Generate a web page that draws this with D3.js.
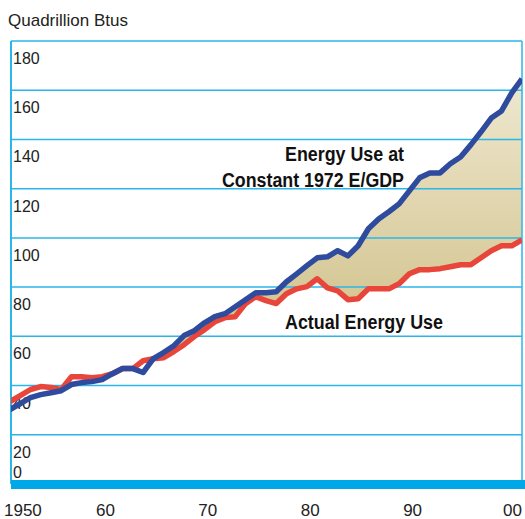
<!DOCTYPE html>
<html>
<head>
<meta charset="utf-8">
<script src="https://cdn.jsdelivr.net/npm/d3@7"></script>
<style>
	body { margin: 0; background: #fff; }
	svg { display: block; }
	.lbl { font-family: "Liberation Sans", Arial, sans-serif; fill: #222; }
	.note { font-family: "Liberation Sans Narrow", "Arial Narrow", "Liberation Sans", sans-serif; font-weight: bold; fill: #111; }
</style>
</head>
<body>
<div id="chart"></div>
<script>
const years = d3.range(1950, 2001);

// actual U.S. energy use, quadrillion Btus
const actual = [
	33.5, 35.9, 38.4, 39.6, 39.2, 38.4, 43.6, 43.6, 43.2, 43.6,
	44.8, 46.9, 46.9, 50.1, 50.9, 51.3, 53.8, 56.6, 59.9, 62.7,
	65.9, 67.6, 68.0, 73.3, 76.1, 74.5, 73.3, 77.3, 79.3, 80.2,
	83.4, 79.7, 78.5, 74.9, 75.3, 79.3, 79.3, 79.3, 81.4, 85.4,
	87.1, 87.1, 87.5, 88.3, 89.1, 89.1, 91.9, 94.8, 96.8, 96.8,
	99.2
];

// energy use at constant 1972 E/GDP
const constant = [
	30.2, 32.7, 35.1, 36.3, 37.1, 37.9, 40.4, 41.2, 41.6, 42.4,
	44.8, 46.9, 46.9, 45.3, 50.9, 53.4, 56.2, 60.3, 62.3, 65.5,
	68.0, 69.2, 72.0, 74.9, 77.7, 77.7, 78.1, 82.2, 85.4, 88.7,
	91.9, 92.3, 94.8, 92.7, 96.8, 103.7, 107.7, 110.6, 113.8, 119.1,
	124.4, 126.4, 126.4, 130.1, 132.9, 137.8, 143.1, 148.7, 151.6, 158.9,
	164.6
];

const yTicks = [0, 20, 40, 60, 80, 100, 120, 140, 160, 180];
const xTicks = [1950, 1960, 1970, 1980, 1990, 2000];
const xTickLabels = ["1950", "60", "70", "80", "90", "00"];

var w = 525,
	h = 519,
	plotLeft = 11,
	plotRight = 522,
	plotTop = 41,
	plotBottom = 484;

const data = years.map((yr, i) => ({year: yr, actual: actual[i], constant: constant[i]}));

var svg = d3.select("#chart")
	.append("svg")
	.attr("width", w)
	.attr("height", h);

const x = d3.scaleLinear()
			.domain([1950, 2000])
			.range([plotLeft - 1, plotRight]);

const y = d3.scaleLinear()
			.domain([0, 180])
			.range([plotBottom, plotTop]);

var defs = svg.append("defs");

var grad = defs.append("linearGradient")
	.attr("id", "tan")
	.attr("gradientUnits", "userSpaceOnUse")
	.attr("x1", 0).attr("y1", y(165))
	.attr("x2", 0).attr("y2", y(75));
grad.append("stop").attr("offset", "0%").attr("stop-color", "#efe8d0");
grad.append("stop").attr("offset", "100%").attr("stop-color", "#d5c795");

defs.append("clipPath")
	.attr("id", "plot")
	.append("rect")
	.attr("x", plotLeft)
	.attr("y", plotTop)
	.attr("width", plotRight - plotLeft)
	.attr("height", plotBottom - plotTop);

// title
svg.append("text")
	.attr("class", "lbl")
	.attr("x", 8)
	.attr("y", 26)
	.style("font-size", "17px")
	.text("Quadrillion Btus");

// shaded gap between the two series
svg.append("path")
	.datum(data)
	.attr("clip-path", "url(#plot)")
	.attr("fill", "url(#tan)")
	.attr("d", d3.area()
		.x(d => x(d.year))
		.y0(d => y(d.actual))
		.y1(d => y(Math.max(d.actual, d.constant))));

// grid
svg.append("g")
	.selectAll("line")
	.data(yTicks.filter(d => d > 0))
	.enter()
	.append("line")
	.attr("x1", plotLeft)
	.attr("x2", plotRight)
	.attr("y1", d => y(d))
	.attr("y2", d => y(d))
	.attr("stroke", "#2bb6ea")
	.attr("stroke-width", 1.5);

svg.append("line")
	.attr("x1", plotLeft).attr("x2", plotLeft)
	.attr("y1", y(180)).attr("y2", y(0))
	.attr("stroke", "#2bb6ea")
	.attr("stroke-width", 2);

svg.append("line")
	.attr("x1", plotRight).attr("x2", plotRight)
	.attr("y1", y(180)).attr("y2", y(0))
	.attr("stroke", "#2bb6ea")
	.attr("stroke-width", 1.5);

svg.append("rect")
	.attr("x", plotLeft)
	.attr("y", y(0) - 4)
	.attr("width", w - plotLeft)
	.attr("height", 9)
	.attr("fill", "#00a8e8");

// y labels sit just under their grid line, 0 sits above the bar
svg.append("g")
	.selectAll("text")
	.data(yTicks)
	.enter()
	.append("text")
	.attr("class", "lbl")
	.attr("x", plotLeft + 2)
	.attr("y", d => d == 0 ? y(d) - 6 : y(d) + 23)
	.style("font-size", "16px")
	.text(d => d);

// x labels
svg.append("g")
	.selectAll("text")
	.data(xTicks)
	.enter()
	.append("text")
	.attr("class", "lbl")
	.attr("x", (d, i) => i == 0 ? 4 : (i == xTicks.length - 1 ? x(d) - 19 : x(d) - 7))
	.attr("y", 516)
	.attr("text-anchor", (d, i) => (i == 0 || i == xTicks.length - 1) ? "start" : "middle")
	.style("font-size", "17px")
	.text((d, i) => xTickLabels[i]);

// series lines
const line = key => d3.line()
	.x(d => x(d.year))
	.y(d => y(d[key]));

svg.append("path")
	.datum(data)
	.attr("clip-path", "url(#plot)")
	.attr("fill", "none")
	.attr("stroke", "#e8463a")
	.attr("stroke-width", 5.5)
	.attr("stroke-linejoin", "round")
	.attr("d", line("actual"));

svg.append("path")
	.datum(data)
	.attr("clip-path", "url(#plot)")
	.attr("fill", "none")
	.attr("stroke", "#2e4b9e")
	.attr("stroke-width", 5.5)
	.attr("stroke-linejoin", "round")
	.attr("d", line("constant"));

// annotations
const notes = [
	{text: "Energy Use at", x: 285, y: 161, len: 119},
	{text: "Constant 1972 E/GDP", x: 222, y: 187, len: 182},
	{text: "Actual Energy Use", x: 285, y: 329, len: 158}
];

svg.append("g")
	.selectAll("text")
	.data(notes)
	.enter()
	.append("text")
	.attr("class", "note")
	.attr("x", d => d.x)
	.attr("y", d => d.y)
	.attr("textLength", d => d.len)
	.attr("lengthAdjust", "spacingAndGlyphs")
	.style("font-size", "20px")
	.text(d => d.text);
</script>
</body>
</html>
